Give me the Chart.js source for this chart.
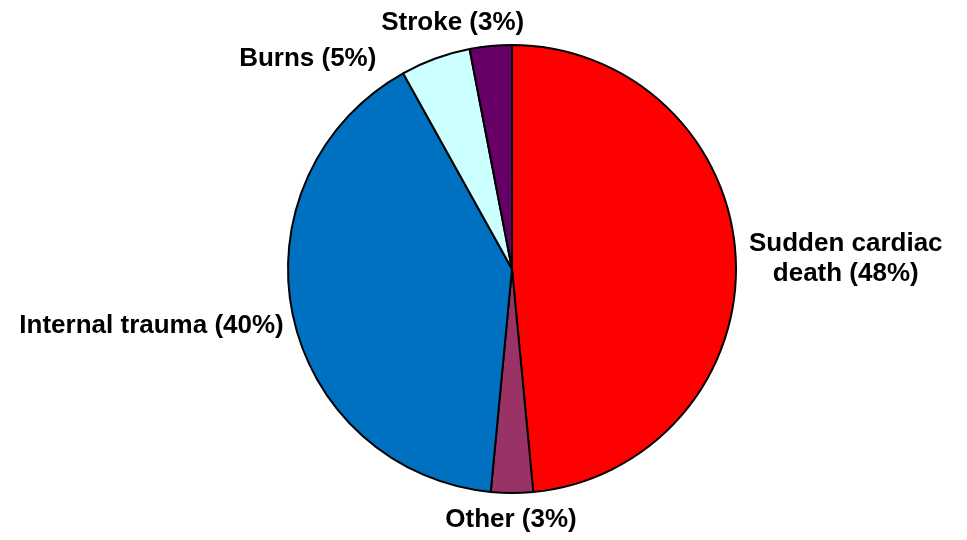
<!DOCTYPE html>
<html>
<head>
<meta charset="utf-8">
<script src="https://cdn.jsdelivr.net/npm/chart.js@4/dist/chart.umd.min.js"></script>
<style>
  html, body { margin: 0; padding: 0; background: #ffffff; }
  #wrap { width: 967px; height: 540px; }
</style>
</head>
<body>
<div id="wrap"><canvas id="pieChart" width="967" height="540"></canvas></div>
<script>
// Causes (clockwise from 12 o'clock)
const categories = ['Sudden cardiac death', 'Other', 'Internal trauma', 'Burns', 'Stroke'];
const shares = [48, 3, 40, 5, 3];
const sliceLabels = [['Sudden cardiac', 'death (48%)'], ['Other (3%)'], ['Internal trauma (40%)'], ['Burns (5%)'], ['Stroke (3%)']];
const sliceColors = ['#ff0000', '#993366', '#0070c0', '#ccffff', '#660066'];

// label placement relative to the slice's outer edge at its middle angle
const labelOffsets = [
    { dx: 110, dy: 0, align: 'center' },
    { dx: -1, dy: 27, align: 'center' },
    { dx: -9, dy: 11, align: 'right' },
    { dx: -59, dy: 0, align: 'right' },
    { dx: -38, dy: -23, align: 'center' }
];

const outsideLabels = {
    id: 'outsideLabels',
    afterDraw(chart) {
        const ctx = chart.ctx;
        const meta = chart.getDatasetMeta(0);
        ctx.save();
        ctx.font = "bold 26px 'Liberation Sans', Arial, sans-serif";
        ctx.fillStyle = '#000000';
        ctx.textBaseline = 'middle';
        meta.data.forEach((arc, i) => {
            const p = arc.getProps(['x', 'y', 'startAngle', 'endAngle', 'outerRadius'], true);
            const mid = (p.startAngle + p.endAngle) / 2;
            const off = labelOffsets[i];
            const x = p.x + Math.cos(mid) * p.outerRadius + off.dx;
            const y = p.y + Math.sin(mid) * p.outerRadius + off.dy;
            const lines = sliceLabels[i];
            const lh = 30;
            ctx.textAlign = off.align;
            lines.forEach((line, j) => {
                ctx.fillText(line, x, y + (j - (lines.length - 1) / 2) * lh);
            });
        });
        ctx.restore();
    }
};

new Chart(document.getElementById('pieChart'), {
    type: 'pie',
    data: {
        labels: categories,
        datasets: [{
            data: shares,
            backgroundColor: sliceColors,
            borderColor: '#000000',
            borderWidth: 2,
            borderAlign: 'center'
        }]
    },
    options: {
        responsive: false,
        animation: false,
        layout: {
            padding: { left: 287, right: 230, top: 44, bottom: 46 }
        },
        plugins: {
            legend: { display: false },
            tooltip: { enabled: false }
        }
    },
    plugins: [outsideLabels]
});
</script>
</body>
</html>
